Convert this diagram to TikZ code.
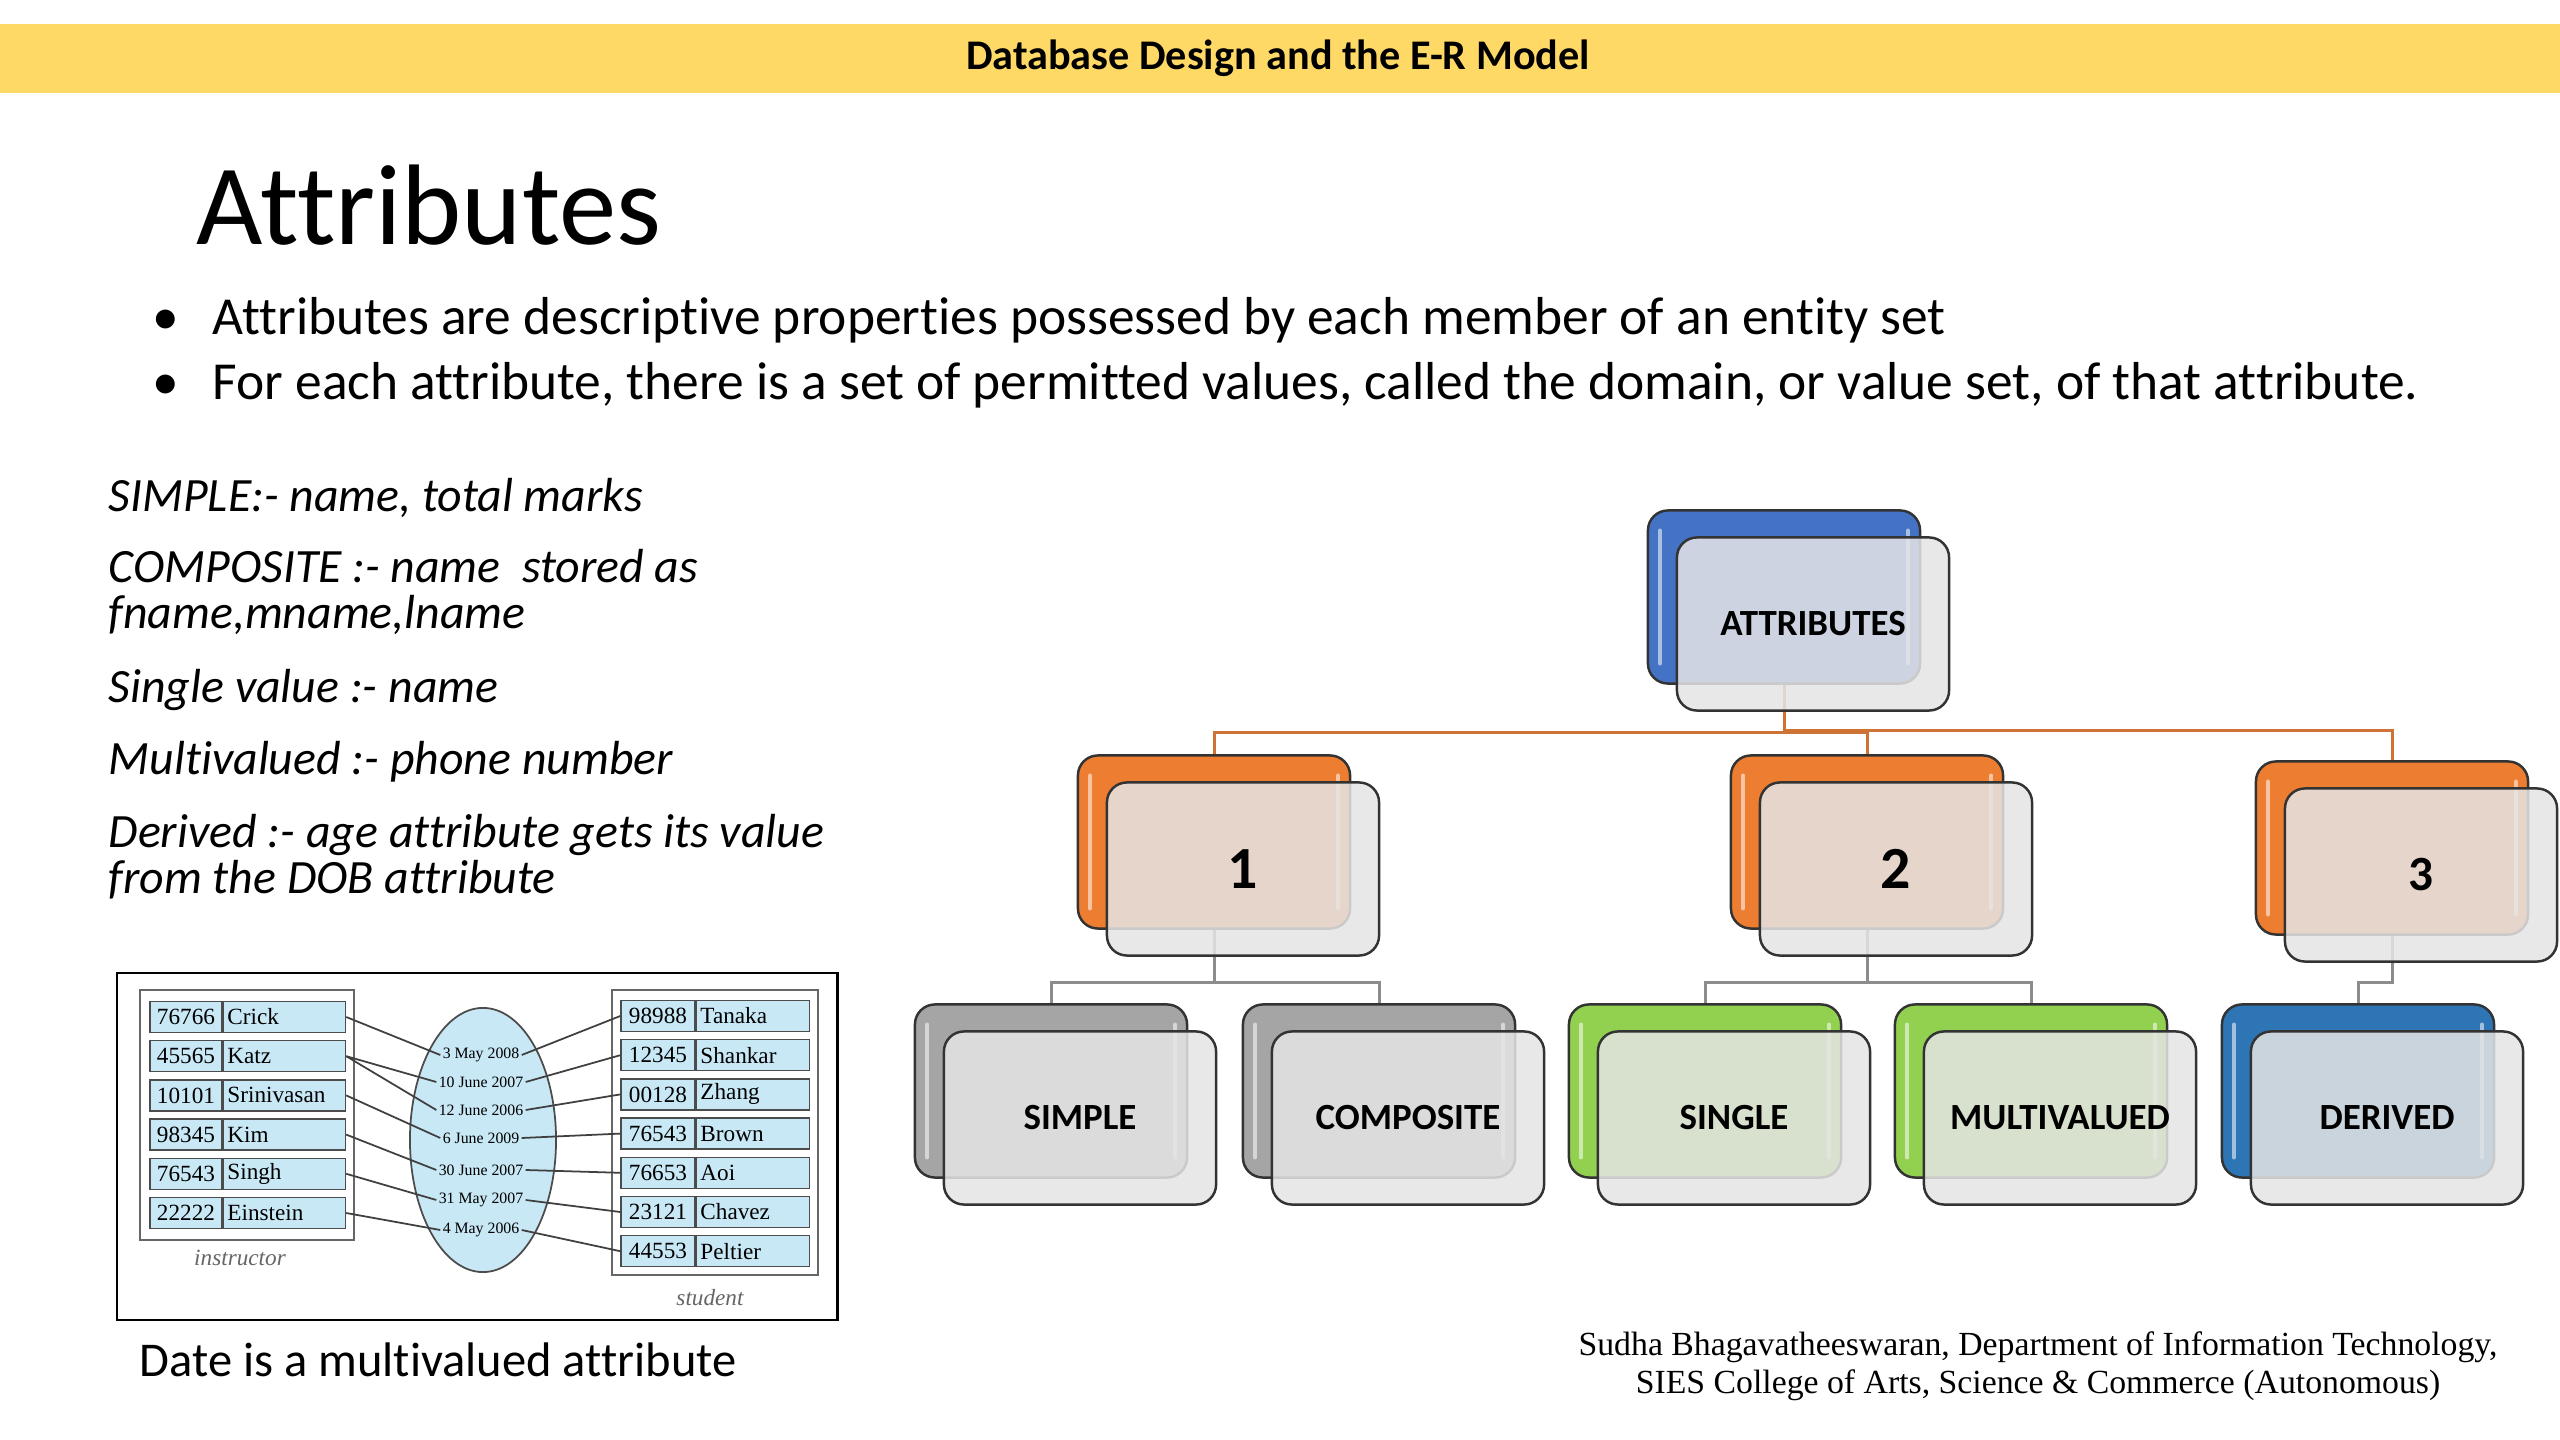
\documentclass[tikz,border=0pt]{standalone}
\usepackage{fontspec}
\setmainfont{Carlito}[Ligatures=NoCommon]
\newfontfamily\footfont{Liberation Serif}
\usetikzlibrary{positioning,calc,shapes.geometric}

\definecolor{bandyellow}{HTML}{FFD966}
\definecolor{attblue}{HTML}{4472C4}
\definecolor{drvblue}{HTML}{2E75B6}
\definecolor{lvlorange}{HTML}{ED7D31}
\definecolor{lvlgray}{HTML}{A5A5A5}
\definecolor{lvlgreen}{HTML}{92D050}
\definecolor{linkorange}{HTML}{C55A11}
\definecolor{cellblue}{HTML}{C9E8F6}

\tikzset{
  backbox/.style={draw=black!80, line width=0.7pt, rounded corners=0.2cm,
    minimum width=2.72cm, minimum height=1.73cm, inner sep=0pt,
    path picture={
      \draw[white, opacity=0.55, line width=1.1pt, line cap=round]
        ([xshift=0.12cm,yshift=-0.2cm]path picture bounding box.north west) --
        ([xshift=0.12cm,yshift=0.2cm]path picture bounding box.south west);
      \draw[white, opacity=0.55, line width=1.1pt, line cap=round]
        ([xshift=-0.12cm,yshift=-0.2cm]path picture bounding box.north east) --
        ([xshift=-0.12cm,yshift=0.2cm]path picture bounding box.south east);
    }},
  frontbox/.style={draw=black!80, line width=0.7pt, rounded corners=0.2cm,
    fill=black!10, fill opacity=0.85, text opacity=1,
    minimum width=2.72cm, minimum height=1.73cm, inner sep=0pt,
    font=\fontsize{10.5}{12}\selectfont\bfseries},
  numfont/.style={font=\fontsize{17}{20}\selectfont\bfseries},
  toplink/.style={linkorange!85, line width=0.85pt},
  sublink/.style={black!45, line width=0.85pt},
  bullettext/.style={anchor=base west, inner sep=0pt, font=\fontsize{15.2}{18}\selectfont},
  lefttext/.style={anchor=base west, inner sep=0pt, font=\fontsize{13.6}{16}\selectfont\itshape},
  idcell/.style={draw=black!70, line width=0.4pt, fill=cellblue, minimum width=0.72cm,
    minimum height=0.31cm, inner sep=0pt, font=\footfont\fontsize{6.6}{7}\selectfont},
  namecell/.style={draw=black!70, line width=0.4pt, fill=cellblue, minimum height=0.31cm,
    inner xsep=0.04cm, inner ysep=0pt, align=left, font=\footfont\fontsize{6.6}{7}\selectfont},
  datetext/.style={inner sep=0.5pt, font=\footfont\fontsize{4.5}{5}\selectfont},
  tablelabel/.style={text=black!60, font=\footfont\itshape\fontsize{6.6}{7}\selectfont},
  link/.style={black!75, line width=0.5pt}
}

\begin{document}
\begin{tikzpicture}[x=0.01cm, y=-0.01cm]
  \useasboundingbox (0,0) rectangle (2560,1440);
  \fill[white] (0,0) rectangle (2560,1440);

  % Header band
  \fill[bandyellow] (0,24) rectangle (2560,93);
  \node[font=\fontsize{12}{14}\selectfont\bfseries] (header) at (1278,58) {Database Design and the E-R Model};

  % Title and bullets
  \node[anchor=base west, inner sep=0pt, font=\fontsize{32.6}{38}\selectfont] (title) at (196,245) {Attributes};
  \node[bullettext] (dot1) at (152,335) {\textbullet};
  \node[bullettext] (bul1) at (212,335) {Attributes are descriptive properties possessed by each member of an entity set};
  \node[bullettext] (dot2) at (152,400) {\textbullet};
  \node[bullettext] (bul2) at (212,400) {For each attribute, there is a set of permitted values, called the domain, or value set, of that attribute.};

  % Notes on the left
  \node[lefttext] (simpleTxt) at (108,512) {SIMPLE:- name, total marks};
  \node[lefttext] (compTxtA) at (108,583) {COMPOSITE :- name~ stored as};
  \node[lefttext] (compTxtB) at (108,629) {fname,mname,lname};
  \node[lefttext] (singleTxt) at (108,703) {Single value :- name};
  \node[lefttext] (multiTxt) at (108,775) {Multivalued :- phone number};
  \node[lefttext] (derivedTxtA) at (108,848) {Derived :- age attribute gets its value};
  \node[lefttext] (derivedTxtB) at (108,893) {from the DOB attribute};

  % Instructor / student picture
  \draw[black, line width=0.85pt] (117,973) rectangle (837,1320);
  \draw[black!60, line width=0.4pt] (140,990) rectangle (354,1240);
  \draw[black!60, line width=0.4pt] (612,990) rectangle (818,1275);
  \node[draw=black!70, line width=0.5pt, fill=cellblue, ellipse, minimum width=1.46cm,
    minimum height=2.64cm] (dateset) at (483,1140) {};

  \foreach \id/\nm [count=\i] in {76766/Crick, 45565/Katz, 10101/Srinivasan,
      98345/Kim, 76543/Singh, 22222/Einstein} {
    \node[idcell] (instid\i) at (186,{1017+39.2*(\i-1)}) {\id};
    \node[namecell, right=0pt of instid\i, text width=1.14cm] (inst\i) {\nm};
  }
  \foreach \id/\nm [count=\i] in {98988/Tanaka, 12345/Shankar, 00128/Zhang,
      76543/Brown, 76653/Aoi, 23121/Chavez, 44553/Peltier} {
    \node[idcell, minimum width=0.74cm] (stud\i) at (658,{1016+39.2*(\i-1)}) {\id};
    \node[namecell, right=0pt of stud\i, text width=1.05cm] (studnm\i) {\nm};
  }
  \foreach \dt/\yy [count=\j] in {3 May 2008/1055, 10 June 2007/1082, 12 June 2006/1110,
      6 June 2009/1138, 30 June 2007/1170, 31 May 2007/1200, 4 May 2006/1230} {
    \node[datetext] (date\j) at (481,\yy) {\dt};
  }
  \node[tablelabel] (instrLbl) at (240,1258) {instructor};
  \node[tablelabel] (studLbl) at (710,1298) {student};

  % instructor -> date -> student
  \foreach \a/\b in {1/1, 2/2, 2/3, 3/4, 4/5, 5/6, 6/7}
    \draw[link] (inst\a.east) -- (date\b.west);
  \foreach \k in {1,...,7}
    \draw[link] (date\k.east) -- (stud\k.west);

  \node[anchor=base west, inner sep=0pt, font=\fontsize{13.8}{17}\selectfont] (caption) at (139,1376) {Date is a multivalued attribute};

  % Hierarchy: coloured back boxes
  \node[backbox, fill=attblue] (attB) at (1784,597) {};
  \node[backbox, fill=lvlorange] (oneB) at (1214,842) {};
  \node[backbox, fill=lvlorange] (twoB) at (1867,842) {};
  \node[backbox, fill=lvlorange] (threeB) at (2392,848) {};
  \node[backbox, fill=lvlgray] (simpleB) at (1051,1091) {};
  \node[backbox, fill=lvlgray] (compB) at (1379,1091) {};
  \node[backbox, fill=lvlgreen] (singleB) at (1705,1091) {};
  \node[backbox, fill=lvlgreen] (multiB) at (2031,1091) {};
  \node[backbox, fill=drvblue] (derivedB) at (2358,1091) {};

  % Connectors
  \draw[toplink] (attB.south) -- ++(0,48) -| (oneB.north);
  \draw[toplink] (attB.south) -- ++(0,48) -| (twoB.north);
  \draw[toplink] (attB.south) -- ++(0,46) -| (threeB.north);
  \draw[sublink] (oneB.south) -- ++(0,53) -| (simpleB.north);
  \draw[sublink] (oneB.south) -- ++(0,53) -| (compB.north);
  \draw[sublink] (twoB.south) -- ++(0,53) -| (singleB.north);
  \draw[sublink] (twoB.south) -- ++(0,53) -| (multiB.north);
  \draw[sublink] (threeB.south) -- ++(0,47) -| (derivedB.north);

  % Hierarchy: translucent front boxes with the labels
  \node[frontbox] (attF) at ($(attB)+(29,27)$) {ATTRIBUTES};
  \node[frontbox, numfont] (oneF) at ($(oneB)+(29,27)$) {1};
  \node[frontbox, numfont] (twoF) at ($(twoB)+(29,27)$) {2};
  \node[frontbox, font=\fontsize{14}{16}\selectfont\bfseries] (threeF) at ($(threeB)+(29,27)$) {3};
  \node[frontbox] (simpleF) at ($(simpleB)+(29,27)$) {SIMPLE};
  \node[frontbox] (compF) at ($(compB)+(29,27)$) {COMPOSITE};
  \node[frontbox] (singleF) at ($(singleB)+(29,27)$) {SINGLE};
  \node[frontbox] (multiF) at ($(multiB)+(29,27)$) {MULTIVALUED};
  \node[frontbox] (derivedF) at ($(derivedB)+(29,27)$) {DERIVED};

  % Footer
  \node[font=\footfont\fontsize{9.6}{11}\selectfont] (footA) at (2038,1347) {Sudha Bhagavatheeswaran, Department of Information Technology,};
  \node[font=\footfont\fontsize{9.6}{11}\selectfont] (footB) at (2038,1385) {SIES College of Arts, Science \& Commerce (Autonomous)};
\end{tikzpicture}
\end{document}
